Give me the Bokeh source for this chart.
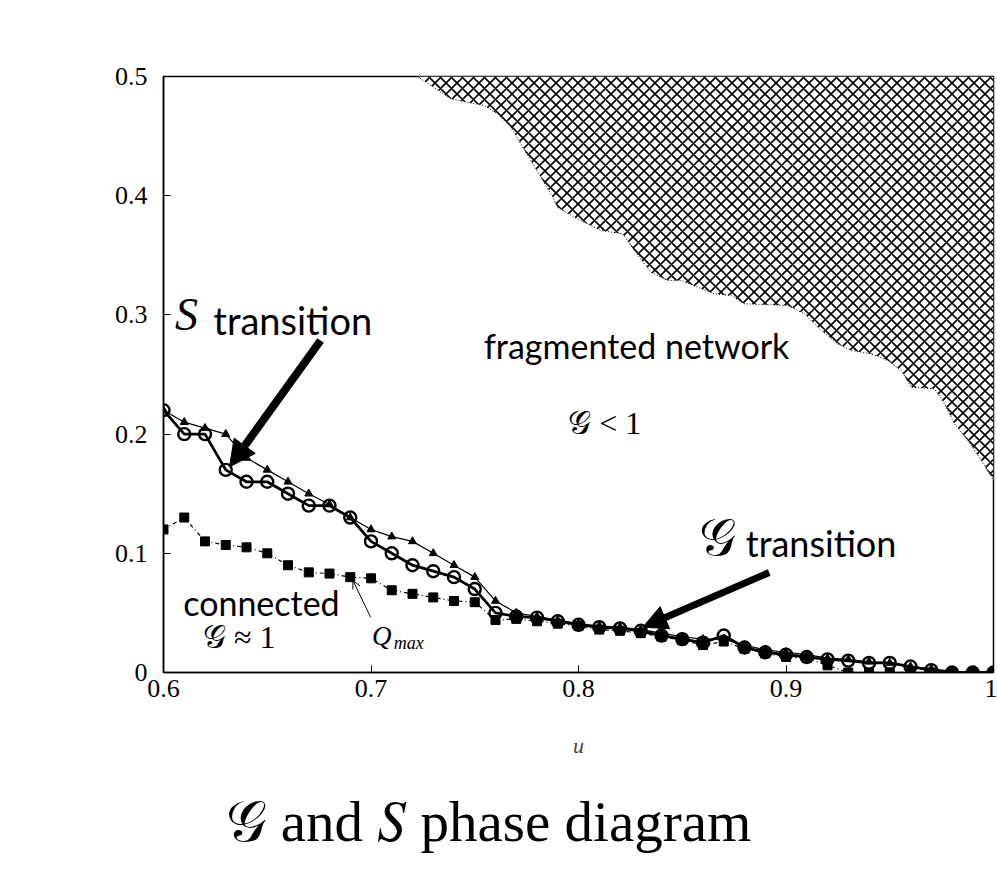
from bokeh.plotting import figure
from bokeh.models import (Label, Arrow, NormalHead, OpenHead, Range1d, FixedTicker, Title)
from bokeh.embed import file_html
from bokeh.resources import INLINE

# ---------------- data ----------------
u = [0.60, 0.61, 0.62, 0.63, 0.64, 0.65, 0.66, 0.67, 0.68, 0.69,
     0.70, 0.71, 0.72, 0.73, 0.74, 0.75, 0.76, 0.77, 0.78, 0.79,
     0.80, 0.81, 0.82, 0.83, 0.84, 0.85, 0.86, 0.87, 0.88, 0.89,
     0.90, 0.91, 0.92, 0.93, 0.94, 0.95, 0.96, 0.97, 0.98, 0.99, 1.00]

s_transition = [0.220, 0.200, 0.200, 0.170, 0.160, 0.160, 0.150, 0.140, 0.140, 0.130,
                0.110, 0.100, 0.090, 0.085, 0.080, 0.070, 0.050, 0.047, 0.046, 0.043,
                0.040, 0.038, 0.037, 0.035, 0.031, 0.028, 0.025, 0.031, 0.021, 0.017,
                0.015, 0.013, 0.011, 0.010, 0.008, 0.008, 0.005, 0.002, 0.000, 0.000, 0.000]

g_transition = [0.220, 0.210, 0.205, 0.200, 0.180, 0.170, 0.160, 0.150, 0.141, 0.130,
                0.120, 0.114, 0.110, 0.100, 0.090, 0.080, 0.060, 0.050, 0.047, 0.044,
                0.041, 0.039, 0.038, 0.036, 0.033, 0.030, 0.028, 0.028, 0.023, 0.019,
                0.017, 0.015, 0.012, 0.011, 0.009, 0.008, 0.005, 0.003, 0.001, 0.000, 0.000]

q_max = [0.120, 0.130, 0.110, 0.107, 0.105, 0.100, 0.090, 0.084, 0.083, 0.080,
         0.079, 0.069, 0.066, 0.063, 0.060, 0.059, 0.044, 0.045, 0.043, 0.041,
         0.039, 0.036, 0.035, 0.033, 0.030, 0.027, 0.023, 0.026, 0.020, 0.016,
         0.013, 0.012, 0.006, 0.000, 0.000, 0.000, 0.000, 0.000, 0.000, 0.000, 0.000]

# boundary of the fragmented (hatched) region
frag_u = [0.7224, 0.7302, 0.7384, 0.7465, 0.7545, 0.7610, 0.7674, 0.7722, 0.7770, 0.7819,
          0.7867, 0.7899, 0.7979, 0.8044, 0.8108, 0.8213, 0.8269, 0.8349, 0.8430, 0.8494,
          0.8575, 0.8655, 0.8735, 0.8799, 0.9009, 0.9089, 0.9170, 0.9250, 0.9314, 0.9411,
          0.9491, 0.9555, 0.9604, 0.9716, 0.9764, 0.9812, 0.9877, 0.9941, 1.0000]
frag_y = [0.5000, 0.4910, 0.4813, 0.4784, 0.4757, 0.4687, 0.4575, 0.4435, 0.4295, 0.4155,
          0.4016, 0.3904, 0.3820, 0.3764, 0.3708, 0.3680, 0.3540, 0.3358, 0.3289, 0.3289,
          0.3232, 0.3177, 0.3163, 0.3093, 0.3079, 0.3009, 0.2869, 0.2758, 0.2701, 0.2674,
          0.2617, 0.2534, 0.2393, 0.2380, 0.2254, 0.2086, 0.1946, 0.1779, 0.1610]

x_ticks = [0.6, 0.7, 0.8, 0.9, 1.0]
x_tick_labels = ["0.6", "0.7", "0.8", "0.9", "1"]
y_ticks = [0.0, 0.1, 0.2, 0.3, 0.4, 0.5]
y_tick_labels = ["0", "0.1", "0.2", "0.3", "0.4", "0.5"]

# ---------------- figure ----------------
p = figure(frame_width=830, frame_height=596, output_backend="svg", toolbar_location=None,
           x_range=Range1d(0.6, 1.0), y_range=Range1d(0.0, 0.5),
           min_border_left=163, min_border_right=4, min_border_top=76, min_border_bottom=213)
p.background_fill_color = "white"
p.border_fill_color = "white"
p.grid.visible = False
p.outline_line_color = "black"
p.outline_line_width = 1.5

SERIF = "Liberation Serif"
SANS = "Lato"

for ax in (p.xaxis[0], p.yaxis[0]):
    ax.major_tick_in = 7
    ax.major_tick_out = 0
    ax.minor_tick_in = 0
    ax.minor_tick_out = 0
    ax.axis_line_width = 1.5
    ax.major_tick_line_width = 1
    ax.major_label_text_font = SERIF
    ax.major_label_text_font_size = "26px"
    ax.major_label_text_color = "black"

p.xaxis[0].ticker = FixedTicker(ticks=x_ticks)
p.xaxis[0].major_label_overrides = {t: l for t, l in zip(x_ticks, x_tick_labels)}
p.xaxis[0].major_label_standoff = 7
p.xaxis[0].axis_label = "u"
p.xaxis[0].axis_label_text_font = SERIF
p.xaxis[0].axis_label_text_font_style = "italic"
p.xaxis[0].axis_label_text_font_size = "22px"
p.xaxis[0].axis_label_standoff = 33

p.yaxis[0].ticker = FixedTicker(ticks=y_ticks)
p.yaxis[0].major_label_overrides = {t: l for t, l in zip(y_ticks, y_tick_labels)}
p.yaxis[0].major_label_standoff = 16

# hatched fragmented region
p.patch(frag_u + [1.0], frag_y + [0.5], fill_color="white", line_color=None,
        hatch_pattern="diagonal_cross", hatch_color="black", hatch_scale=11, hatch_weight=1.6)
p.line(frag_u, frag_y, line_color="black", line_width=1, line_dash="1 2")

# Q_max series
p.line(u, q_max, line_color="black", line_width=1.2, line_dash="4 3 1 3")
p.scatter(u, q_max, marker="square", size=9, fill_color="black", line_color="black")

# G transition series (triangles)
p.line(u, g_transition, line_color="black", line_width=1.2)
p.scatter(u, g_transition, marker="triangle", size=8, fill_color="black", line_color="black")

# S transition series (open circles)
p.line(u, s_transition, line_color="black", line_width=2.8)
p.scatter(u, s_transition, marker="circle", size=12, fill_color=None, line_color="black",
          line_width=2.4)

# ---------------- annotations ----------------
def lab(x, y, text, font, size, style="normal", align="left", baseline="middle"):
    p.add_layout(Label(x=x, y=y, text=text, text_font=font, text_font_size=size,
                       text_font_style=style, text_align=align, text_baseline=baseline,
                       text_color="black"))

# S transition
lab(0.6055, 0.3000, "S", SERIF, "46px", style="italic")
lab(0.6240, 0.2960, "transition", SANS, "38px")
p.add_layout(Arrow(x_start=0.6757, y_start=0.2785, x_end=0.6318, y_end=0.1725,
                   line_width=8, line_color="black",
                   end=NormalHead(size=26, fill_color="black", line_color="black")))

# G transition
lab(0.8580, 0.1130, "𝒢", SERIF, "52px")
lab(0.8806, 0.1090, "transition", SANS, "36px")
p.add_layout(Arrow(x_start=0.8919, y_start=0.0839, x_end=0.8310, y_end=0.0380,
                   line_width=7, line_color="black",
                   end=NormalHead(size=24, fill_color="black", line_color="black")))

# regions
lab(0.7544, 0.2740, "fragmented network", SANS, "34px")
lab(0.7950, 0.2090, "𝒢 < 1", SERIF, "32px")
lab(0.6095, 0.0590, "connected", SANS, "34px")
lab(0.6190, 0.0300, "𝒢 ≈ 1", SERIF, "32px")

# Q_max pointer
lab(0.7005, 0.0310, "Q", SERIF, "27px", style="italic")
lab(0.7110, 0.0250, "max", SERIF, "18px", style="italic")
p.add_layout(Arrow(x_start=0.6998, y_start=0.0464, x_end=0.6913, y_end=0.0772,
                   line_width=1, line_color="black",
                   end=OpenHead(size=8, line_color="black", line_width=1)))

# bottom caption
caption = Title(text="𝒢 and 𝑆 phase diagram", text_font=SERIF, text_font_size="57px",
                text_font_style="normal", align="left", offset=62, standoff=54,
                text_color="black")
p.add_layout(caption, "below")

open("out.html", "w").write(file_html(p, INLINE))
